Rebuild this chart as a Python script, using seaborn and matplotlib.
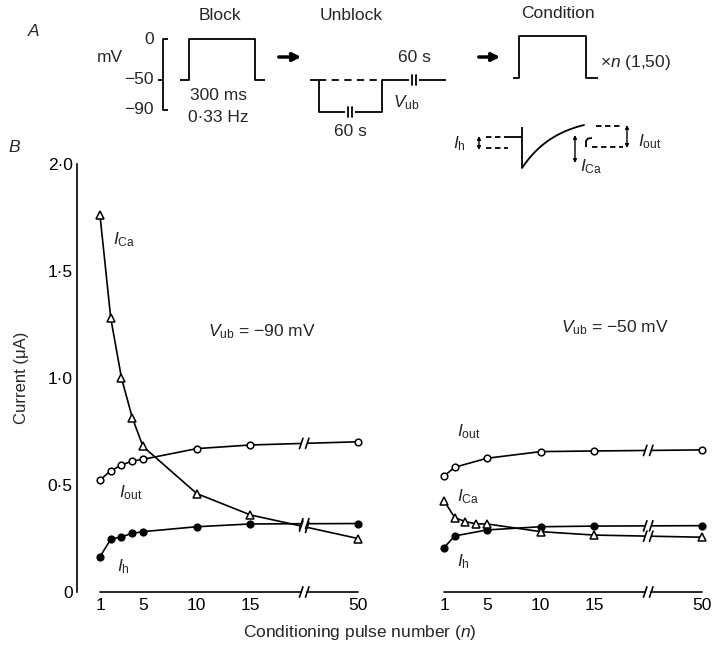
import numpy as np
import pandas as pd
import matplotlib
matplotlib.use("Agg")
import matplotlib.pyplot as plt
import seaborn as sns

# currents (uA), per conditioning pulse number n
n_90 = [1, 2, 3, 4, 5, 10, 15, 50]
ica_90 = [1.76, 1.28, 1.0, 0.815, 0.68, 0.46, 0.36, 0.25]
iout_90 = [0.523, 0.567, 0.593, 0.612, 0.62, 0.67, 0.687, 0.702]
ih_90 = [0.165, 0.246, 0.258, 0.274, 0.282, 0.305, 0.318, 0.32]

n_ica_50 = [1, 2, 3, 4, 5, 10, 15, 50]
ica_50 = [0.427, 0.347, 0.329, 0.318, 0.318, 0.282, 0.266, 0.256]
n_50 = [1, 2, 5, 10, 15, 50]
iout_50 = [0.542, 0.583, 0.625, 0.656, 0.659, 0.664]
ih_50 = [0.207, 0.262, 0.29, 0.305, 0.308, 0.31]

tick_n = [1, 5, 10, 15, 50]
ytick_vals = [0, 0.5, 1.0, 1.5, 2.0]
ytick_labels = ['0', '0·5', '1·0', '1·5', '2·0']

BREAK = 20  # axis is broken here, n=50 is drawn at 25


def to_pos(n):
    return [25 if v == 50 else v for v in n]


sns.set_style('white')
plt.rcParams['font.family'] = ['Liberation Sans', 'DejaVu Sans']
plt.rcParams['mathtext.fontset'] = 'custom'
plt.rcParams['mathtext.rm'] = 'Liberation Sans'
plt.rcParams['mathtext.it'] = 'Liberation Sans:italic'
plt.rcParams['mathtext.bf'] = 'Liberation Sans:bold'

W, H = 716, 655
FS = 12.5
fig = plt.figure(figsize=(W / 100, H / 100), dpi=100)


def px_axes(l, t, r, b):
    return fig.add_axes([l / W, 1 - b / H, (r - l) / W, (b - t) / H])


def line_break(ax, x, y, at=BREAK):
    # white gap plus two slanted strokes on a line
    yb = np.interp(at, x, y)
    sl = (np.interp(at + 0.3, x, y) - np.interp(at - 0.3, x, y)) / 0.6
    ax.plot([at - 0.3, at + 0.3], [yb - 0.3 * sl, yb + 0.3 * sl], color='white',
            lw=4, zorder=3, solid_capstyle='butt', clip_on=False)
    for dx in (-0.28, 0.28):
        xc, yc = at + dx, yb + dx * sl
        ax.plot([xc - 0.16, xc + 0.16], [yc - 0.024, yc + 0.024], color='black',
                lw=1.2, zorder=4, clip_on=False)


def plot_series(ax, n, vals, marker, face, size=4.8):
    x = to_pos(n)
    sns.lineplot(x=x, y=vals, ax=ax, color='black', lw=1.2, marker=marker,
                 markersize=size, markerfacecolor=face, markeredgecolor='black',
                 markeredgewidth=1.1, zorder=2, clip_on=False)
    line_break(ax, x, vals)


def style_panel(ax, show_y):
    ax.set_xlim(-1.14, 26.12)
    ax.set_ylim(0, 2)
    ax.set_facecolor('none')
    for s in ['top', 'right', 'bottom']:
        ax.spines[s].set_visible(False)
    # broken x axis drawn by hand
    ax.plot([1, BREAK - 0.3], [0, 0], color='black', lw=1.2, clip_on=False)
    ax.plot([BREAK + 0.3, 25], [0, 0], color='black', lw=1.2, clip_on=False)
    for xc in (BREAK - 0.28, BREAK + 0.28):
        ax.plot([xc - 0.16, xc + 0.16], [-0.024, 0.024], color='black', lw=1.2, clip_on=False)
    ax.set_xticks(to_pos(tick_n), [str(v) for v in tick_n])
    ax.tick_params(axis='x', direction='in', length=7, width=1.2, pad=4, labelsize=FS, colors='black')
    if show_y:
        ax.spines['left'].set_color('black')
        ax.spines['left'].set_linewidth(1.2)
        ax.set_yticks(ytick_vals, ytick_labels)
        ax.tick_params(axis='y', direction='in', length=8, width=1.2, pad=3, labelsize=FS, colors='black')
    else:
        ax.spines['left'].set_visible(False)
        ax.tick_params(axis='y', left=False, labelleft=False)
    ax.set_xlabel('')
    ax.set_ylabel('')


ax_l = px_axes(77, 164, 370, 592)
ax_r = px_axes(421, 164, 714, 592)

plot_series(ax_l, n_90, iout_90, 'o', 'white')
plot_series(ax_l, n_90, ih_90, 'o', 'black')
plot_series(ax_l, n_90, ica_90, '^', 'white', 6)
plot_series(ax_r, n_50, iout_50, 'o', 'white')
plot_series(ax_r, n_50, ih_50, 'o', 'black')
plot_series(ax_r, n_ica_50, ica_50, '^', 'white', 6)
style_panel(ax_l, True)
style_panel(ax_r, False)

lab = dict(fontsize=FS, va='center', ha='left')
ax_l.text(2.2, 1.645, r'$I_{\mathrm{Ca}}$', **lab)
ax_l.text(2.77, 0.463, r'$I_{\mathrm{out}}$', **lab)
ax_l.text(2.58, 0.117, r'$I_{\mathrm{h}}$', **lab)
ax_l.text(11.05, 1.215, r'$V_{\mathrm{ub}}$ = −90 mV', **lab)
ax_r.text(2.2, 0.748, r'$I_{\mathrm{out}}$', **lab)
ax_r.text(2.2, 0.444, r'$I_{\mathrm{Ca}}$', **lab)
ax_r.text(2.2, 0.14, r'$I_{\mathrm{h}}$', **lab)
ax_r.text(11.9, 1.234, r'$V_{\mathrm{ub}}$ = −50 mV', **lab)

fig.text(22 / W, 1 - 378 / H, 'Current (μA)', rotation=90, fontsize=12, ha='center', va='center')
fig.text(360 / W, 1 - 632 / H, r'Conditioning pulse number ($n$)', fontsize=12.5, ha='center', va='center')

# panel A: the pulse protocol sketch, in pixel coordinates
ax_a = fig.add_axes([0, 0, 1, 1])
ax_a.set_xlim(0, W)
ax_a.set_ylim(H, 0)
ax_a.axis('off')
ax_a.patch.set_alpha(0)

k = dict(color='black', lw=1.3, solid_capstyle='butt')


def seg(xs, ys, **kw):
    d = dict(k)
    d.update(kw)
    ax_a.plot(xs, ys, **d)


def gap(x, y):
    # "||" break on a horizontal line
    ax_a.plot([x - 3, x + 3], [y, y], color='white', lw=3, zorder=3)
    for xc in (x - 2, x + 2):
        ax_a.plot([xc, xc], [y - 5, y + 5], color='black', lw=1.3, zorder=4)


def arrow(x0, x1, y):
    ax_a.annotate('', xy=(x1, y), xytext=(x0, y),
                  arrowprops=dict(arrowstyle='-|>', lw=2.5, color='black', mutation_scale=12))


def darrow(x, y0, y1):
    ax_a.annotate('', xy=(x, y1), xytext=(x, y0),
                  arrowprops=dict(arrowstyle='<|-|>', lw=1.0, color='black',
                                  mutation_scale=5, shrinkA=0, shrinkB=0))


t = dict(fontsize=FS, ha='center', va='center')
ax_a.text(34, 32, 'A', fontsize=FS, style='italic', ha='center', va='center')
ax_a.text(14, 148, 'B', fontsize=FS, style='italic', ha='center', va='center')
ax_a.text(220, 15, 'Block', **t)
ax_a.text(351, 15, 'Unblock', **t)
ax_a.text(558, 14, 'Condition', **t)

# mV scale
ax_a.text(110, 57, 'mV', **t)
for lbl, yy in (('0', 40), ('−50', 80), ('−90', 110)):
    ax_a.text(154, yy, lbl, fontsize=FS, ha='right', va='center')
seg([168, 163, 163, 168], [39, 39, 110, 110])
seg([158, 163], [80, 80])

# block pulse
seg([180, 189, 189, 255, 255, 265], [80, 80, 39, 39, 80, 80])
ax_a.text(218, 95, '300 ms', **t)
ax_a.text(218, 117, '0·33 Hz', **t)
arrow(276, 304, 57)

# unblock
seg([310, 319, 319, 382, 382, 446], [80, 80, 112, 112, 80, 80])
seg([319, 382], [80, 80], ls=(0, (4, 3)))
gap(350, 112)
gap(414, 80)
ax_a.text(350, 132, '60 s', **t)
ax_a.text(414, 57, '60 s', **t)
ax_a.text(393, 103, r'$V_{\mathrm{ub}}$', fontsize=FS, ha='left', va='center')
arrow(476, 503, 57)

# conditioning pulse
seg([513, 519, 519, 586, 586, 598], [78, 78, 36, 36, 78, 78])
ax_a.text(600, 63, r'×$n$ (1,50)', fontsize=FS, ha='left', va='center')

# current sketch
xs = np.linspace(522, 584, 40)
ys = 168 - 43 * (1 - np.exp(-(xs - 522) / 35)) / (1 - np.exp(-62 / 35))
ax_a.plot(xs, ys, color='black', lw=1.3)
seg([508, 522], [137, 137])
seg([522, 522], [127, 168])
seg([486, 508], [137, 137], ls=(0, (3, 2)))
seg([486, 508], [148, 148], ls=(0, (3, 2)))
darrow(479, 136, 150)
ax_a.text(453, 144, r'$I_{\mathrm{h}}$', fontsize=FS, ha='left', va='center')
seg([596, 623], [126, 126], ls=(0, (3, 2)))
seg([592, 623], [147, 147], ls=(0, (3, 2)))
seg([586, 586, 588, 592], [147, 141, 138.5, 138])
darrow(627, 125, 148)
ax_a.text(638, 142, r'$I_{\mathrm{out}}$', fontsize=FS, ha='left', va='center')
darrow(575, 135, 163)
ax_a.text(580, 167, r'$I_{\mathrm{Ca}}$', fontsize=FS, ha='left', va='center')

fig.savefig('out.png', dpi=100)
